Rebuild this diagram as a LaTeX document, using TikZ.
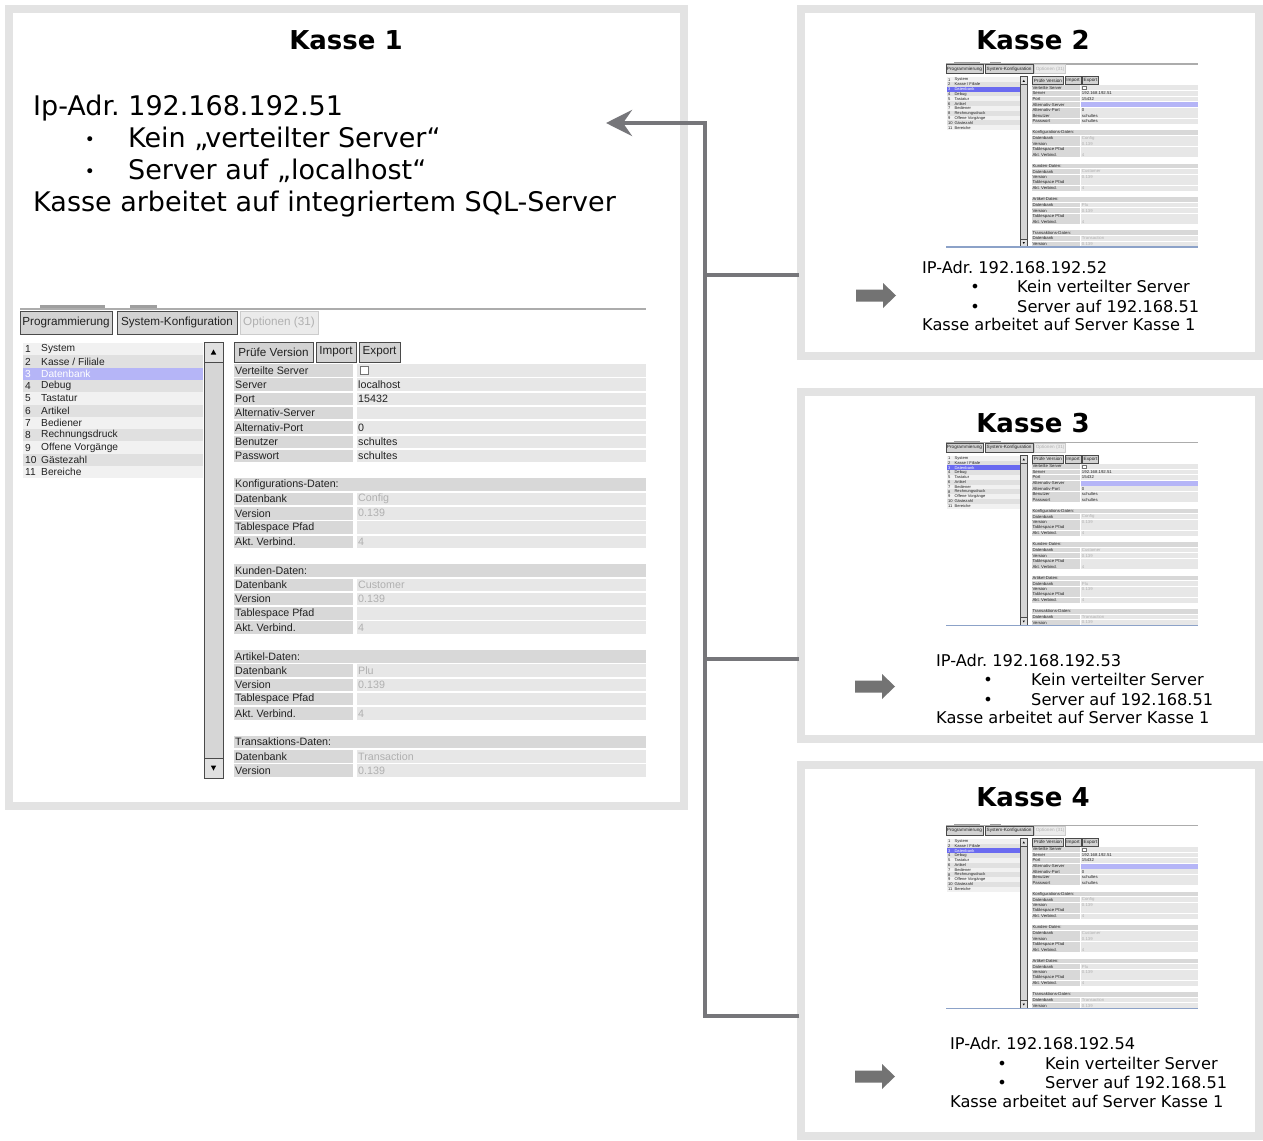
\documentclass[tikz,border=0pt]{standalone}
\usepackage{fontspec}
\setmainfont{DejaVu Sans}
\newfontfamily\ssfont{Liberation Sans}
\usetikzlibrary{arrows.meta}
\frenchspacing
\definecolor{boxgray}{HTML}{E3E3E3}
\definecolor{conngray}{HTML}{76767A}
\definecolor{arrgray}{HTML}{737373}
\definecolor{tabfill}{HTML}{D3D3D3}
\definecolor{tabline}{HTML}{4A4A4A}
\definecolor{lightrow}{HTML}{F1F1F1}
\definecolor{darkrow}{HTML}{E0E0E0}
\definecolor{selrow}{HTML}{B5B5F7}
\definecolor{selrowb}{HTML}{6A6AF0}
\definecolor{lblfill}{HTML}{D8D8D8}
\definecolor{valfill}{HTML}{E7E7E7}
\definecolor{dimtext}{HTML}{B0B0B0}
\definecolor{sstext}{HTML}{222222}
\definecolor{winblue}{HTML}{8CA2C8}

\tikzset{
 kbox/.style={draw=boxgray, line width=8pt, fill=white},
 ktitle/.style={font=\bfseries\fontsize{26}{30}\selectfont, anchor=base, inner sep=0pt},
 kbig/.style={font=\fontsize{27}{30}\selectfont, anchor=base west, inner sep=0pt},
 kbul/.style={font=\fontsize{17}{20}\selectfont, anchor=base, inner sep=0pt},
 ksmall/.style={font=\fontsize{16.2}{19}\selectfont, anchor=base west, inner sep=0pt},
 ksbul/.style={font=\fontsize{16}{19}\selectfont, anchor=base, inner sep=0pt},
 conn/.style={draw=conngray, line width=4pt},
 ssl/.style={font=\ssfont\fontsize{10.7}{12}\selectfont, anchor=west, inner sep=0pt, text=sstext},
 sslist/.style={font=\ssfont\fontsize{10.2}{12}\selectfont, anchor=west, inner sep=0pt},
 ssbtn/.style={font=\ssfont\fontsize{11.7}{13}\selectfont, inner sep=0pt, text=sstext},
 btnbox/.style={draw=tabline, fill=tabfill, line width=0.8pt},
}

% table row: #1 index, #2 label, #3 value, #4 value colour
\newcommand\ktrow[4]{%
  \fill[lblfill] (214,{64+14.3*#1}) rectangle (333,{76.5+14.3*#1});
  \fill[valfill] (337,{64+14.3*#1}) rectangle (626,{76.5+14.3*#1});
  \node[ssl] (\kpre-l#1) at (215,{70.25+14.3*#1}) {#2};
  \node[ssl,text=#4] (\kpre-v#1) at (338,{70.25+14.3*#1}) {#3};
}
\newcommand\kthead[2]{%
  \fill[lblfill] (214,{64+14.3*#1}) rectangle (626,{76.5+14.3*#1});
  \node[ssl] (\kpre-h#1) at (215,{70.25+14.3*#1}) {#2};
}

% screenshot: #1 prefix, #2 shift, #3 scale options, #4 server value, #5 alt-server fill, #6 selection colour
\newcommand\kscreen[6]{%
\begin{scope}[shift={#2},#3]
  \def\kpre{#1}
  \fill[gray!75] (20,4.5) rectangle (85,9);
  \fill[gray!75] (110,4.5) rectangle (137,9);
  \draw[gray!65, line width=1.5pt] (0,9) -- (626,9);
  % tabs
  \draw[btnbox] (0,11) rectangle (92,34);
  \node[ssbtn] (#1-tab1) at (46,22.5) {Programmierung};
  \draw[btnbox] (97,11) rectangle (217,34);
  \node[ssbtn] (#1-tab2) at (157,22.5) {System-Konfiguration};
  \draw[draw=black!20, fill=black!8, line width=0.8pt] (220,11) rectangle (298,34);
  \node[ssbtn,text=dimtext] (#1-tab3) at (259,22.5) {Optionen (31)};
  % list
  \foreach \n/\t [count=\k from 0] in {1/System, 2/{Kasse / Filiale}, 3/Datenbank, 4/Debug, 5/Tastatur, 6/Artikel, 7/Bediener, 8/Rechnungsdruck, 9/{Offene Vorgänge}, 10/Gästezahl, 11/Bereiche}{
    \ifnum\n=3 \def\rowc{#6}\def\txc{white}%
    \else\ifodd\n\relax\def\rowc{lightrow}\else\def\rowc{darkrow}\fi\def\txc{sstext}\fi
    \fill[\rowc] (3,{43+12.3*\k}) rectangle (183,{55.3+12.3*\k});
    \node[sslist,text=\txc] (#1-n\n) at (5,{49.15+12.3*\k}) {\n};
    \node[sslist,text=\txc] (#1-t\n) at (21,{49.15+12.3*\k}) {\t};
  }
  % scrollbar
  \draw[draw=tabline, fill=black!16, line width=0.8pt] (184,42) rectangle (203,478);
  \draw[draw=tabline, fill=darkrow, line width=0.8pt] (184,42) rectangle (203,62);
  \draw[draw=tabline, fill=darkrow, line width=0.8pt] (184,458) rectangle (203,478);
  \fill[black] (190.8,54.5) -- (196.2,54.5) -- (193.5,49.5) -- cycle;
  \fill[black] (190.8,465.5) -- (196.2,465.5) -- (193.5,470.5) -- cycle;
  % buttons
  \draw[btnbox] (214,42) rectangle (293,62);
  \node[ssbtn] (#1-b1) at (253.5,52) {Prüfe Version};
  \draw[btnbox] (296,42) rectangle (336,62);
  \node[ssbtn] (#1-b2) at (316,52) {Import};
  \draw[btnbox] (339,42) rectangle (380,62);
  \node[ssbtn] (#1-b3) at (359.5,52) {Export};
  % table
  \ktrow{0}{Verteilte Server}{}{sstext}
  \draw[black!55, fill=white, line width=0.6pt] (340,66.5) rectangle (348,74.5);
  \ktrow{1}{Server}{#4}{sstext}
  \ktrow{2}{Port}{15432}{sstext}
  \ktrow{3}{Alternativ-Server}{}{sstext}
  \fill[#5] (337,{64+14.3*3}) rectangle (626,{76.5+14.3*3});
  \ktrow{4}{Alternativ-Port}{0}{sstext}
  \ktrow{5}{Benutzer}{schultes}{sstext}
  \ktrow{6}{Passwort}{schultes}{sstext}
  \kthead{8}{Konfigurations-Daten:}
  \ktrow{9}{Datenbank}{Config}{dimtext}
  \ktrow{10}{Version}{0.139}{dimtext}
  \ktrow{11}{Tablespace Pfad}{}{dimtext}
  \ktrow{12}{Akt. Verbind.}{4}{dimtext}
  \kthead{14}{Kunden-Daten:}
  \ktrow{15}{Datenbank}{Customer}{dimtext}
  \ktrow{16}{Version}{0.139}{dimtext}
  \ktrow{17}{Tablespace Pfad}{}{dimtext}
  \ktrow{18}{Akt. Verbind.}{4}{dimtext}
  \kthead{20}{Artikel-Daten:}
  \ktrow{21}{Datenbank}{Plu}{dimtext}
  \ktrow{22}{Version}{0.139}{dimtext}
  \ktrow{23}{Tablespace Pfad}{}{dimtext}
  \ktrow{24}{Akt. Verbind.}{4}{dimtext}
  \kthead{26}{Transaktions-Daten:}
  \ktrow{27}{Datenbank}{Transaction}{dimtext}
  \ktrow{28}{Version}{0.139}{dimtext}
\end{scope}}

\newcommand\kblockarrow[2]{%
  \fill[arrgray] (#1,#2-6) -- (#1+27,#2-6) -- (#1+27,#2-12.5) -- (#1+40,#2)
    -- (#1+27,#2+12.5) -- (#1+27,#2+6) -- (#1,#2+6) -- cycle;
}

\begin{document}
\begin{tikzpicture}[x=1pt,y=-1pt]
\useasboundingbox[fill=white] (0,0) rectangle (1263,1140);

% boxes
\draw[kbox] (9,9) rectangle (684,806);
\draw[kbox] (801,9) rectangle (1259,356);
\draw[kbox] (801,392) rectangle (1259,739);
\draw[kbox] (801,765) rectangle (1259,1136);

% Kasse 1
\node[ktitle] (t1) at (346,50) {Kasse 1};
\node[kbig] (k1a) at (33,115) {Ip-Adr. 192.168.192.51};
\node[kbul] (k1p1) at (90,145) {•};
\node[kbig] (k1b) at (128,147) {Kein „verteilter Server“};
\node[kbul] (k1p2) at (90,177) {•};
\node[kbig] (k1c) at (128,179) {Server auf „localhost“};
\node[kbig] (k1d) at (33,211) {Kasse arbeitet auf integriertem SQL-Server};
\kscreen{s1}{(20,300)}{}{localhost}{valfill}{selrow}

% Kasse 2
\node[ktitle] (t2) at (1033,50) {Kasse 2};
\kscreen{s2}{(946,60.5)}{xscale=0.402,yscale=0.39,transform shape}{192.168.192.51}{selrow}{selrowb}
\draw[winblue, line width=1.2pt] (946,247) -- (1198,247);
\node[ksmall] (k2a) at (922,273) {IP-Adr. 192.168.192.52};
\node[ksbul] (k2p1) at (975,292) {•};
\node[ksmall] (k2b) at (1017,292) {Kein verteilter Server};
\node[ksbul] (k2p2) at (975,312) {•};
\node[ksmall] (k2c) at (1017,312) {Server auf 192.168.51};
\node[ksmall] (k2d) at (922,330) {Kasse arbeitet auf Server Kasse 1};
\kblockarrow{856}{295.5}

% Kasse 3
\node[ktitle] (t3) at (1033,432) {Kasse 3};
\kscreen{s3}{(946,439)}{xscale=0.402,yscale=0.39,transform shape}{192.168.192.51}{selrow}{selrowb}
\draw[winblue, line width=1.2pt] (946,625.5) -- (1198,625.5);
\node[ksmall] (k3a) at (936,666) {IP-Adr. 192.168.192.53};
\node[ksbul] (k3p1) at (988,685) {•};
\node[ksmall] (k3b) at (1031,685) {Kein verteilter Server};
\node[ksbul] (k3p2) at (988,705) {•};
\node[ksmall] (k3c) at (1031,705) {Server auf 192.168.51};
\node[ksmall] (k3d) at (936,723) {Kasse arbeitet auf Server Kasse 1};
\kblockarrow{855}{686.5}

% Kasse 4
\node[ktitle] (t4) at (1033,806) {Kasse 4};
\kscreen{s4}{(946,822)}{xscale=0.402,yscale=0.39,transform shape}{192.168.192.51}{selrow}{selrowb}
\draw[winblue, line width=1.2pt] (946,1008.5) -- (1198,1008.5);
\node[ksmall] (k4a) at (950,1049) {IP-Adr. 192.168.192.54};
\node[ksbul] (k4p1) at (1002,1069) {•};
\node[ksmall] (k4b) at (1045,1069) {Kein verteilter Server};
\node[ksbul] (k4p2) at (1002,1088) {•};
\node[ksmall] (k4c) at (1045,1088) {Server auf 192.168.51};
\node[ksmall] (k4d) at (950,1107) {Kasse arbeitet auf Server Kasse 1};
\kblockarrow{855}{1076.5}

% connectors
\coordinate (tip1) at (606,123);
\coordinate (bus1) at (705,123);
\coordinate (e2) at (799,275);
\coordinate (e3) at (799,659);
\coordinate (e4) at (799,1016);
\coordinate (bus4) at (705,1016);
\draw[conn, -{Stealth[length=26pt,width=26pt,inset=9pt]}] (e4) -- (bus4) -- (bus1) -- (tip1);
\draw[conn] (e2) -- (e2 -| bus1);
\draw[conn] (e3) -- (e3 -| bus1);
\end{tikzpicture}
\end{document}
